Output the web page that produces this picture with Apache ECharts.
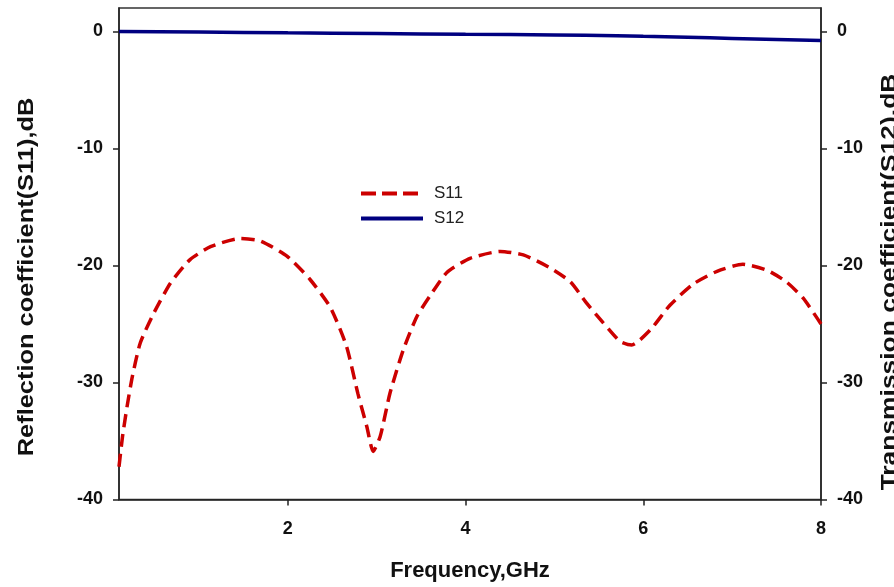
<!DOCTYPE html>
<html>
<head>
<meta charset="utf-8">
<script src="https://cdn.jsdelivr.net/npm/echarts@6/dist/echarts.min.js"></script>
<style>html,body{margin:0;padding:0;background:#fff;}#c{width:894px;height:587px;}</style>
</head>
<body>
<div id="c"></div>
<script>
const freqS11 = [0.1,0.14,0.19,0.25,0.34,0.49,0.68,0.9,1.13,1.46,1.69,1.99,2.25,2.48,2.66,2.79,2.89,2.96,3.04,3.15,3.3,3.45,3.6,3.79,4.05,4.39,4.65,4.95,5.18,5.36,5.55,5.74,5.87,6.08,6.3,6.56,6.83,7.12,7.39,7.61,7.8,8.0];
const s11 = [-37.2,-34.6,-32.1,-29.5,-26.6,-24.1,-21.5,-19.5,-18.4,-17.7,-17.9,-19.2,-21.2,-23.6,-26.9,-31.0,-33.8,-35.9,-34.6,-30.9,-27.2,-24.4,-22.6,-20.6,-19.4,-18.8,-19.1,-20.2,-21.4,-23.2,-24.9,-26.5,-26.8,-25.5,-23.4,-21.6,-20.5,-19.9,-20.4,-21.4,-22.8,-25.0];
const freqS12 = [0.1,1,2,3,4,5,5.7,6,6.5,7,7.5,8];
const s12 = [0,-0.05,-0.12,-0.18,-0.25,-0.3,-0.37,-0.42,-0.5,-0.6,-0.7,-0.77];
const xTicks = [2,4,6,8];
const yTicks = [-40,-30,-20,-10,0];
const seriesNames = ['S11','S12'];
const titles = {x:'Frequency,GHz', yLeft:'Reflection coefficient(S11),dB', yRight:'Transmission coefficient(S12),dB'};

const chart = echarts.init(document.getElementById('c'), null, {renderer:'canvas'});
const axisLineStyle = {color:'#222', width:1.5};
const labelFont = {fontFamily:'Liberation Sans', fontWeight:'bold', fontSize:18, color:'#111'};
function yAxisDef(pos){
  return {
    type:'value', min:-40, max:2, position:pos,
    axisLine:{show:true, onZero:false, lineStyle:axisLineStyle},
    axisTick:{show:true, customValues:yTicks, length:6, lineStyle:axisLineStyle},
    axisLabel:Object.assign({customValues:yTicks, margin:16}, labelFont),
    splitLine:{show:false}
  };
}
chart.setOption({
  animation:false,
  backgroundColor:'#fff',
  grid:{left:119, right:73, top:8, bottom:87.5, show:true, borderColor:'#333', borderWidth:1.5},
  legend:{
    orient:'vertical', left:354, top:180, itemWidth:62, itemHeight:14, itemGap:8,
    itemStyle:{opacity:0},
    lineStyle:{width:4},
    textStyle:{fontFamily:'Liberation Sans', fontSize:17, color:'#222', padding:[0,0,0,6]},
    data:[{name:seriesNames[0], lineStyle:{type:[15,6]}}, {name:seriesNames[1]}]
  },
  xAxis:{
    type:'value', min:0.1, max:8,
    axisLine:{show:true, onZero:false, lineStyle:axisLineStyle},
    axisTick:{show:true, customValues:xTicks, length:6, lineStyle:axisLineStyle},
    axisLabel:Object.assign({customValues:xTicks, margin:21}, labelFont),
    splitLine:{show:false}
  },
  yAxis:[yAxisDef('left'), yAxisDef('right')],
  series:[{
    name:seriesNames[0], type:'line', yAxisIndex:0, symbol:'none', smooth:0.2,
    data:freqS11.map((f,i)=>[f,s11[i]]),
    lineStyle:{color:'#cc0000', width:3.5, type:[13,7]},
    itemStyle:{color:'#cc0000'}
  },{
    name:seriesNames[1], type:'line', yAxisIndex:1, symbol:'none', smooth:true,
    data:freqS12.map((f,i)=>[f,s12[i]]),
    lineStyle:{color:'#000080', width:3.5},
    itemStyle:{color:'#000080'}
  }],
  graphic:[
    {type:'text', x:470, y:571, style:{text:titles.x, fontFamily:'Liberation Sans', fontWeight:'bold', fontSize:22, fill:'#111', align:'center', verticalAlign:'middle'}},
    {type:'text', x:27, y:277, rotation:Math.PI/2, scaleX:1.155, style:{text:titles.yLeft, fontFamily:'Liberation Sans', fontWeight:'bold', fontSize:22, fill:'#111', align:'center', verticalAlign:'middle'}},
    {type:'text', x:890, y:282, rotation:Math.PI/2, scaleX:1.2, style:{text:titles.yRight, fontFamily:'Liberation Sans', fontWeight:'bold', fontSize:22, fill:'#111', align:'center', verticalAlign:'middle'}}
  ]
});
</script>
</body>
</html>
